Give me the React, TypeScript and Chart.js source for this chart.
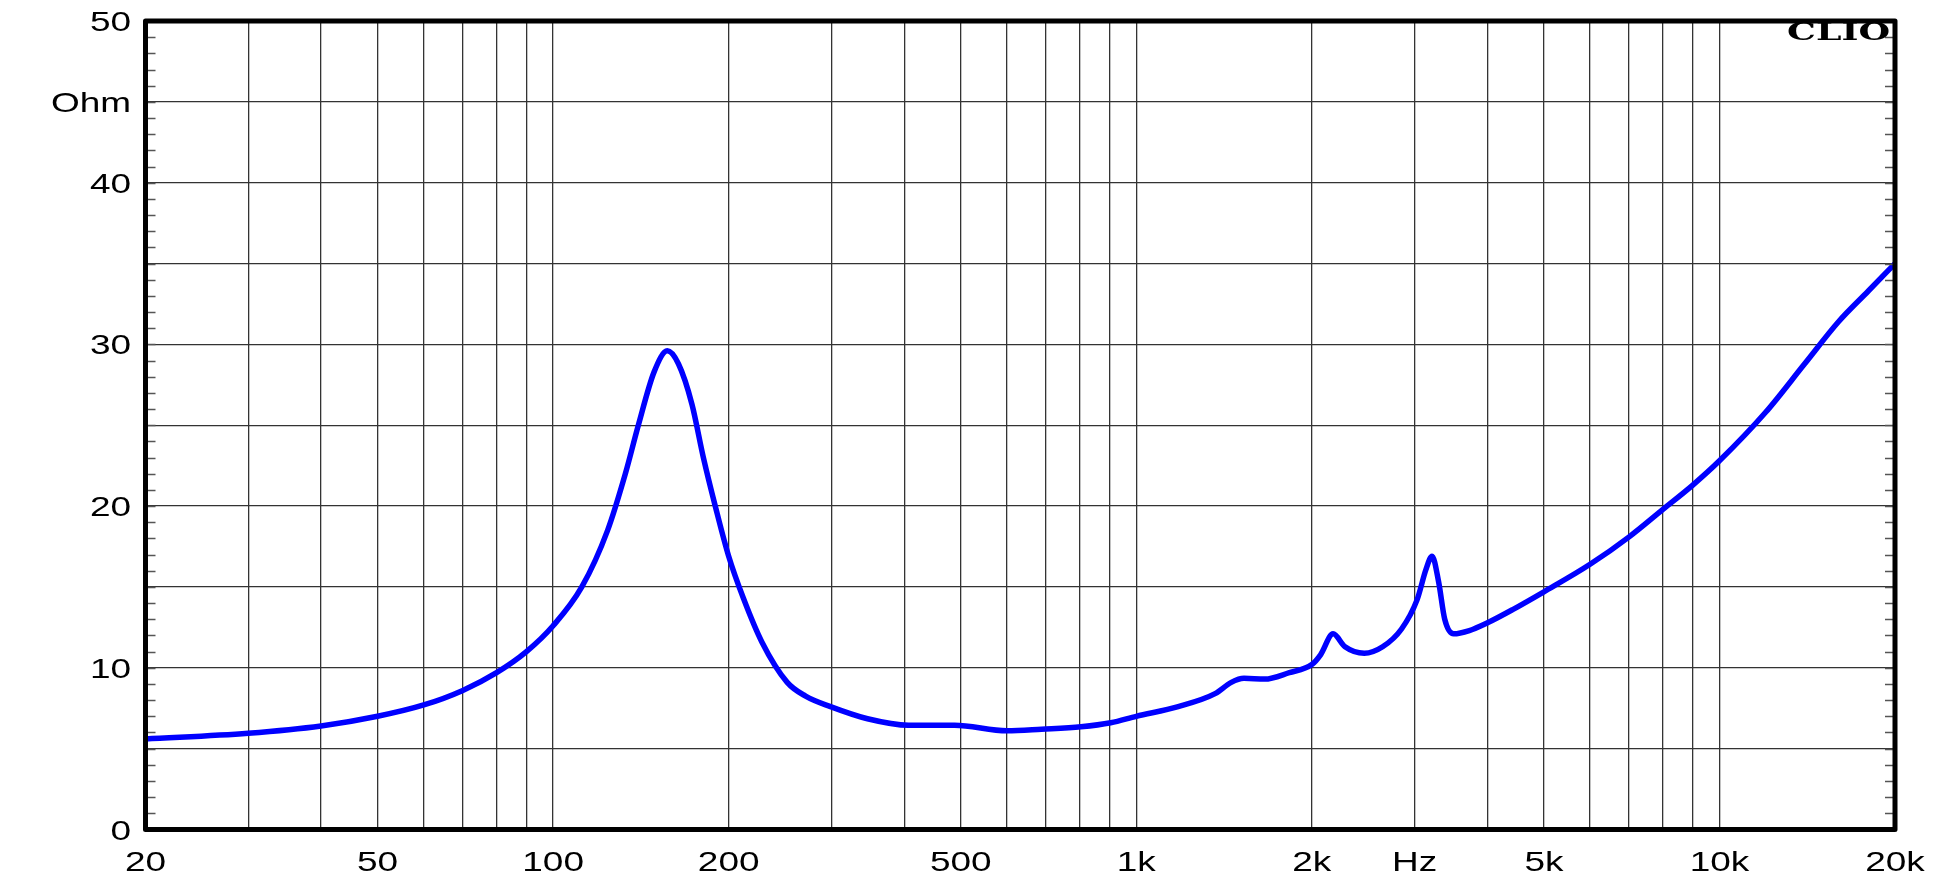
import React, { useEffect, useRef } from "react";
import { Chart, registerables } from "chart.js";

Chart.register(...registerables);

// Frequency (Hz) and impedance (Ohm)
const freqHz = [
  20, 30, 40, 50, 60, 70, 80, 90, 100, 112, 124, 133, 140, 149, 157, 164, 173,
  181, 190, 200, 212, 228, 252, 271, 299, 346, 407, 488, 600, 688, 804, 904,
  1000, 1180, 1365, 1455, 1530, 1660, 1830, 2000, 2070, 2175, 2280, 2460, 2645,
  2850, 3030, 3140, 3215, 3300, 3380, 3500, 3725, 4010, 4420, 5000, 6000, 7000,
  8000, 9000, 10000, 12000, 14000, 16000, 18000, 20000,
];
const impedanceOhm = [
  5.6, 5.95, 6.4, 7.0, 7.7, 8.6, 9.7, 11.0, 12.6, 15.0, 18.5, 22.0, 25.0, 28.3,
  29.6, 28.8, 26.3, 23.0, 19.9, 16.9, 14.3, 11.6, 9.1, 8.25, 7.6, 6.85, 6.45,
  6.45, 6.1, 6.2, 6.35, 6.6, 7.0, 7.6, 8.4, 9.1, 9.35, 9.3, 9.7, 10.2, 10.8,
  12.1, 11.3, 10.9, 11.3, 12.4, 14.2, 16.1, 16.9, 15.3, 13.0, 12.1, 12.3, 12.8,
  13.6, 14.7, 16.4, 18.1, 19.8, 21.3, 22.8, 25.8, 28.8, 31.4, 33.3, 35.0,
];

// Axis ticks / labels
const xGridValues = [
  20, 30, 40, 50, 60, 70, 80, 90, 100, 200, 300, 400, 500, 600, 700, 800, 900,
  1000, 2000, 3000, 4000, 5000, 6000, 7000, 8000, 9000, 10000, 20000,
];
const xLabelValues = [20, 50, 100, 200, 500, 1000, 2000, 3000, 5000, 10000, 20000];
const xLabelTexts = ["20", "50", "100", "200", "500", "1k", "2k", "Hz", "5k", "10k", "20k"];
const yGridValues = [0, 5, 10, 15, 20, 25, 30, 35, 40, 45, 50];
const yLabelValues = [0, 10, 20, 30, 40, 45, 50];
const yLabelTexts = ["0", "10", "20", "30", "40", "Ohm", "50"];
const yMinorStep = 1;
const brandText = "CLIO";

const LABEL_FONT = '"Liberation Sans", Arial, sans-serif';
const LABEL_SIZE = 28;
const LABEL_STRETCH = 1.32;

function stretchedText(
  ctx: CanvasRenderingContext2D,
  text: string,
  x: number,
  baseline: number,
  align: "left" | "right" | "center",
  sx: number
) {
  const w = ctx.measureText(text).width * sx;
  const left = align === "right" ? x - w : align === "center" ? x - w / 2 : x;
  ctx.save();
  ctx.translate(left, baseline);
  ctx.scale(sx, 1);
  ctx.textAlign = "left";
  ctx.textBaseline = "alphabetic";
  ctx.fillText(text, 0, 0);
  ctx.restore();
}

const framePlugin = {
  id: "clioFrame",
  afterDraw(chart: any) {
    const { ctx, chartArea: a, scales } = chart;
    const y = scales.y;
    const x = scales.x;
    ctx.save();
    // minor ticks inside the left and right borders
    ctx.strokeStyle = "#555";
    ctx.lineWidth = 1.5;
    for (let v = y.min + yMinorStep; v < y.max; v += yMinorStep) {
      const py = Math.round(y.getPixelForValue(v)) + 0.5;
      ctx.beginPath();
      ctx.moveTo(a.left, py);
      ctx.lineTo(a.left + 10, py);
      ctx.moveTo(a.right - 10, py);
      ctx.lineTo(a.right, py);
      ctx.stroke();
    }
    // thick frame
    ctx.strokeStyle = "#000";
    ctx.lineWidth = 5;
    ctx.lineJoin = "round";
    ctx.strokeRect(a.left, a.top, a.right - a.left, a.bottom - a.top);

    // axis labels
    ctx.fillStyle = "#000";
    ctx.font = `${LABEL_SIZE}px ${LABEL_FONT}`;
    const capHalf = (LABEL_SIZE * 0.716) / 2;
    yLabelValues.forEach((v, i) => {
      const py = y.getPixelForValue(v);
      stretchedText(ctx, yLabelTexts[i], a.left - 14.5, py + capHalf, "right", LABEL_STRETCH);
    });
    xLabelValues.forEach((v, i) => {
      const px = x.getPixelForValue(v);
      stretchedText(ctx, xLabelTexts[i], px, a.bottom + 31.5 + capHalf, "center", LABEL_STRETCH);
    });

    // brand text
    ctx.font = 'bold 24px "DejaVu Serif", "Liberation Serif", serif';
    const w = ctx.measureText(brandText).width;
    const targetW = 103;
    stretchedText(ctx, brandText, a.right - 5, a.top + 19, "right", targetW / w);
    ctx.restore();
  },
};

export default function App() {
  const canvasRef = useRef<HTMLCanvasElement | null>(null);

  useEffect(() => {
    const canvas = canvasRef.current;
    if (!canvas) return;
    const points = freqHz.map((f, i) => ({ x: f, y: impedanceOhm[i] }));
    const chart = new Chart(canvas, {
      type: "line",
      data: {
        datasets: [
          {
            data: points,
            borderColor: "#0000ff",
            borderWidth: 5.5,
            pointRadius: 0,
            fill: false,
            cubicInterpolationMode: "monotone",
          },
        ],
      },
      options: {
        animation: false,
        responsive: false,
        parsing: false as any,
        layout: { padding: { top: 21, right: 47, left: 0, bottom: 0 } },
        plugins: {
          legend: { display: false },
          tooltip: { enabled: false },
        },
        scales: {
          x: {
            type: "logarithmic",
            min: 20,
            max: 20000,
            afterBuildTicks: (s: any) => {
              s.ticks = xGridValues.map((v) => ({ value: v }));
            },
            afterFit: (s: any) => {
              s.height = 50.5;
            },
            ticks: {
              display: false,
              autoSkip: false,
              callback: (v: any) => {
                const i = xLabelValues.indexOf(Number(v));
                return i >= 0 ? xLabelTexts[i] : "";
              },
            },
            grid: { color: "#333", lineWidth: 1.3, drawTicks: false },
            border: { display: false },
          },
          y: {
            type: "linear",
            min: 0,
            max: 50,
            afterBuildTicks: (s: any) => {
              s.ticks = yGridValues.map((v) => ({ value: v }));
            },
            afterFit: (s: any) => {
              s.width = 145.5;
            },
            ticks: {
              display: false,
              callback: (v: any) => {
                const i = yLabelValues.indexOf(Number(v));
                return i >= 0 ? yLabelTexts[i] : "";
              },
            },
            grid: { color: "#333", lineWidth: 1.3, drawTicks: false },
            border: { display: false },
          },
        },
      },
      plugins: [framePlugin],
    });
    return () => chart.destroy();
  }, []);

  return (
    <div style={{ position: "fixed", left: 0, top: 0, width: 1942, height: 880, background: "#fff" }}>
      <canvas ref={canvasRef} width={1942} height={880} style={{ width: 1942, height: 880 }} />
    </div>
  );
}
